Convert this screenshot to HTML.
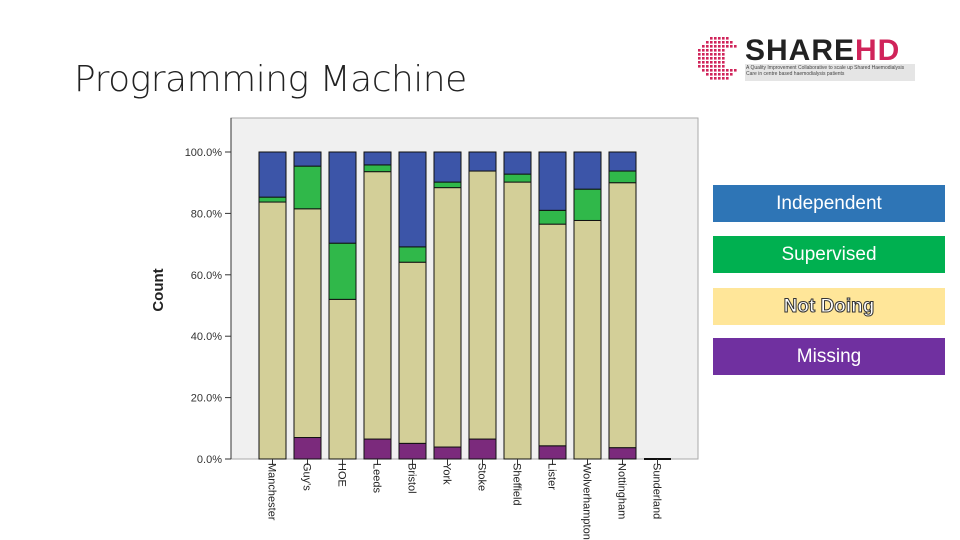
<!DOCTYPE html>
<html><head><meta charset="utf-8"><style>
body{margin:0;width:960px;height:540px;background:#fff;position:relative;overflow:hidden;font-family:"Liberation Sans",sans-serif}
.leg{position:absolute;left:713px;width:232px;height:37px;color:#fff;font-size:19px;text-align:center;line-height:37px}
</style></head><body>
<div style="position:absolute;left:74px;top:59px;font-size:36px;color:#222;font-family:'DejaVu Sans',sans-serif;font-weight:300;letter-spacing:-0.5px">Programming Machine</div>
<div style="position:absolute;left:695px;top:34px;width:220px;height:50px">
 <svg width="50" height="50" id="mark"></svg>
 <div style="position:absolute;left:50px;top:0;font-size:30px;font-weight:bold;color:#222;letter-spacing:1px">SHARE<span style="color:#d0245a">HD</span></div>
 <div style="position:absolute;left:50px;top:30px;width:168px;height:15px;background:#e5e5e5;font-size:5px;color:#444;line-height:6px;padding:1px">A Quality Improvement Collaborative to scale up Shared Haemodialysis Care in centre based haemodialysis patients</div>
</div>
<svg id="chart" width="960" height="540" style="position:absolute;left:0;top:0">
 <rect x="231" y="118" width="467" height="341" fill="#f0f0f0" stroke="#aaa"/>
 <text x="163" y="290" font-size="15" font-weight="bold" fill="#222" transform="rotate(-90 163 290)" text-anchor="middle">Count</text>
 <g id="g"></g>
</svg>
<div class="leg" style="top:185px;background:#2e75b6">Independent</div>
<div class="leg" style="top:236px;background:#00b050">Supervised</div>
<div class="leg" style="top:288px;background:#ffe699;color:#fff;-webkit-text-stroke:1px #333;font-weight:bold">Not Doing</div>
<div class="leg" style="top:338px;background:#7030a0">Missing</div>
<script>
const categories=["Manchester","Guy's","HOE","Leeds","Bristol","York","Stoke","Sheffield","Lister","Wolverhampton","Nottingham","Sunderland"];
const missing=[0,7.0,0,6.5,5.1,3.9,6.5,0,4.3,0,3.7,0];
const notDoing=[83.7,74.5,52.0,87.1,59.0,84.5,87.3,90.2,72.2,77.7,86.3,0];
const supervised=[1.6,13.9,18.3,2.2,5.0,1.8,0,2.6,4.5,10.2,3.8,0];
const independent=[14.7,4.6,29.7,4.2,30.9,9.8,6.2,7.2,19.0,12.1,6.2,0];
const yTicks=[0,20,40,60,80,100];
const series=[missing,notDoing,supervised,independent];
const colors=["#7b2a7c","#d3cf98","#30b84a","#3c55a8"];
const NS="http://www.w3.org/2000/svg",g=document.getElementById('g');
const mark=document.getElementById('mark');
for(let r=0;r<11;r++)for(let c=0;c<11;c++){
 const dx=c-5,dy=r-5; if(dx*dx+dy*dy>30)continue; if(dx>1&&Math.abs(dy)<3)continue;
 const e=document.createElementNS(NS,'rect');
 e.setAttribute('x',3+c*4);e.setAttribute('y',3+r*4);e.setAttribute('width',2.6);e.setAttribute('height',2.6);e.setAttribute('fill','#d0245a');
 mark.appendChild(e);
}
const y=v=>459-v*3.07, x=i=>259+i*35;
function mk(t,a){const e=document.createElementNS(NS,t);for(const k in a)e.setAttribute(k,a[k]);g.appendChild(e);return e;}
yTicks.forEach(t=>{
 const l=mk('line',{x1:225,x2:231,y1:y(t),y2:y(t),stroke:'#333'});
 
 
 const tx=mk('text',{x:222,y:y(t)+4,'font-size':11,'text-anchor':'end',fill:'#333'});tx.textContent=t.toFixed(1)+'%';
 
 
});
mk('line',{x1:231,x2:231,y1:118,y2:459,stroke:'#333'});
categories.forEach((c,i)=>{
 let acc=0;
 series.forEach((s,k)=>{
  const v=s[i]; if(v>0){
   const r=mk('rect',{x:x(i),y:y(acc+v),width:27,height:v*3.07,fill:colors[k],stroke:'#111','stroke-width':1});
   
   
  }
  acc+=v;
 });
 if(acc===0){mk('line',{x1:x(i),x2:x(i)+27,y1:459,y2:459,stroke:'#111','stroke-width':2});}
 const cx=x(i)+13.5;
 mk('line',{x1:cx,x2:cx,y1:459,y2:465,stroke:'#333'});
 const t=mk('text',{x:cx-4,y:463,'font-size':11,fill:'#222',transform:`rotate(90 ${cx-4} 463)`});
 t.textContent=c;
 
 
});
</script>
</body></html>
